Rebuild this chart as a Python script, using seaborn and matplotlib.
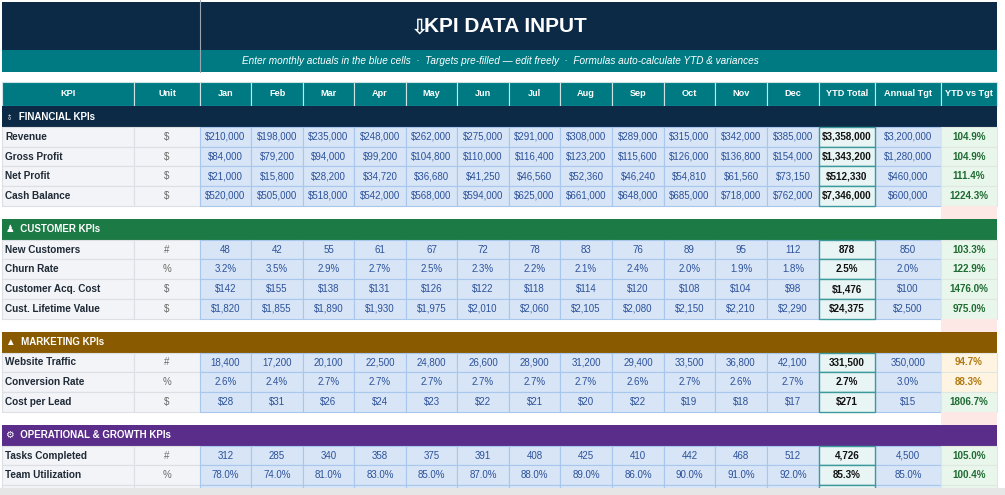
import matplotlib
matplotlib.use("Agg")
import matplotlib.pyplot as plt
from matplotlib.patches import Rectangle
import seaborn as sns

sns.set_style("white")
plt.rcParams['font.family'] = ['Liberation Sans', 'DejaVu Sans']

months = ["Jan", "Feb", "Mar", "Apr", "May", "Jun", "Jul", "Aug", "Sep", "Oct", "Nov", "Dec"]
headers = ["KPI", "Unit"] + months + ["YTD Total", "Annual Tgt", "YTD vs Tgt"]

fin_kpis = ["Revenue", "Gross Profit", "Net Profit", "Cash Balance"]
fin_units = ["$", "$", "$", "$"]
fin_vals = [
    ["$210,000", "$198,000", "$235,000", "$248,000", "$262,000", "$275,000", "$291,000", "$308,000", "$289,000", "$315,000", "$342,000", "$385,000"],
    ["$84,000", "$79,200", "$94,000", "$99,200", "$104,800", "$110,000", "$116,400", "$123,200", "$115,600", "$126,000", "$136,800", "$154,000"],
    ["$21,000", "$15,800", "$28,200", "$34,720", "$36,680", "$41,250", "$46,560", "$52,360", "$46,240", "$54,810", "$61,560", "$73,150"],
    ["$520,000", "$505,000", "$518,000", "$542,000", "$568,000", "$594,000", "$625,000", "$661,000", "$648,000", "$685,000", "$718,000", "$762,000"],
]
fin_ytd = ["$3,358,000", "$1,343,200", "$512,330", "$7,346,000"]
fin_tgt = ["$3,200,000", "$1,280,000", "$460,000", "$600,000"]
fin_pct = ["104.9%", "104.9%", "111.4%", "1224.3%"]

cust_kpis = ["New Customers", "Churn Rate", "Customer Acq. Cost", "Cust. Lifetime Value"]
cust_units = ["#", "%", "$", "$"]
cust_vals = [
    ["48", "42", "55", "61", "67", "72", "78", "83", "76", "89", "95", "112"],
    ["3.2%", "3.5%", "2.9%", "2.7%", "2.5%", "2.3%", "2.2%", "2.1%", "2.4%", "2.0%", "1.9%", "1.8%"],
    ["$142", "$155", "$138", "$131", "$126", "$122", "$118", "$114", "$120", "$108", "$104", "$98"],
    ["$1,820", "$1,855", "$1,890", "$1,930", "$1,975", "$2,010", "$2,060", "$2,105", "$2,080", "$2,150", "$2,210", "$2,290"],
]
cust_ytd = ["878", "2.5%", "$1,476", "$24,375"]
cust_tgt = ["850", "2.0%", "$100", "$2,500"]
cust_pct = ["103.3%", "122.9%", "1476.0%", "975.0%"]

mkt_kpis = ["Website Traffic", "Conversion Rate", "Cost per Lead"]
mkt_units = ["#", "%", "$"]
mkt_vals = [
    ["18,400", "17,200", "20,100", "22,500", "24,800", "26,600", "28,900", "31,200", "29,400", "33,500", "36,800", "42,100"],
    ["2.6%", "2.4%", "2.7%", "2.7%", "2.7%", "2.7%", "2.7%", "2.7%", "2.6%", "2.7%", "2.6%", "2.7%"],
    ["$28", "$31", "$26", "$24", "$23", "$22", "$21", "$20", "$22", "$19", "$18", "$17"],
]
mkt_ytd = ["331,500", "2.7%", "$271"]
mkt_tgt = ["350,000", "3.0%", "$15"]
mkt_pct = ["94.7%", "88.3%", "1806.7%"]

ops_kpis = ["Tasks Completed", "Team Utilization", ""]
ops_units = ["#", "%", ""]
ops_vals = [
    ["312", "285", "340", "358", "375", "391", "408", "425", "410", "442", "468", "512"],
    ["78.0%", "74.0%", "81.0%", "83.0%", "85.0%", "87.0%", "88.0%", "89.0%", "86.0%", "90.0%", "91.0%", "92.0%"],
    [""] * 12,
]
ops_ytd = ["4,726", "85.3%", ""]
ops_tgt = ["4,500", "85.0%", ""]
ops_pct = ["105.0%", "100.4%", ""]

NAVY = "#0c2a46"
TEAL = "#007a82"
sections = [
    ("♁  FINANCIAL KPIs", NAVY, fin_kpis, fin_units, fin_vals, fin_ytd, fin_tgt, fin_pct),
    ("♟  CUSTOMER KPIs", "#1c7a45", cust_kpis, cust_units, cust_vals, cust_ytd, cust_tgt, cust_pct),
    ("▲  MARKETING KPIs", "#8a5a00", mkt_kpis, mkt_units, mkt_vals, mkt_ytd, mkt_tgt, mkt_pct),
    ("⚙  OPERATIONAL & GROWTH KPIs", "#5a2d8a", ops_kpis, ops_units, ops_vals, ops_ytd, ops_tgt, ops_pct),
]

col_x = [2, 134, 200, 251, 303, 354, 406, 457, 509, 560, 612, 664, 715, 767, 819, 875, 941, 997]

fig = plt.figure(figsize=(10.05, 4.95), dpi=100)
ax = fig.add_axes([0, 0, 1, 1])
ax.set_xlim(0, 1005)
ax.set_ylim(495, 0)
ax.axis("off")


def box(x0, y0, x1, y1, fc, ec="none", lw=0.8, z=1):
    ax.add_patch(Rectangle((x0, y0), x1 - x0, y1 - y0, facecolor=fc, edgecolor=ec, linewidth=lw, zorder=z))


# title and subtitle
box(2, 2, 997, 50, NAVY)
box(2, 50, 997, 72, TEAL)
ax.plot([200, 200], [0, 72], color="#9aa5b1", lw=0.8, zorder=2)
ax.text(420, 27, "⇩", color="white", fontsize=15, fontweight="bold", ha="center", va="center", zorder=3,
        family=["DejaVu Sans"])
ax.text(505, 27, "KPI DATA INPUT", color="white", fontsize=15, fontweight="bold", ha="center", va="center", zorder=3)
ax.text(500, 61, "Enter monthly actuals in the blue cells  ·  Targets pre-filled — edit freely  ·  Formulas auto-calculate YTD & variances",
        color="white", fontsize=7.2, style="italic", ha="center", va="center", zorder=3)

# header
for i, h in enumerate(headers):
    box(col_x[i], 82, col_x[i + 1], 106, TEAL, ec="#cfe3e5", lw=0.8)
    ax.text((col_x[i] + col_x[i + 1]) / 2, 94, h, color="white", fontsize=6.6, fontweight="bold", ha="center", va="center", zorder=3)

row_h = 19.7
y = 106
for title, color, kpis, units, vals, ytd, tgt, pct in sections:
    box(2, y, 997, y + 21, color)
    ax.text(6, y + 10.5, title, color="white", fontsize=7, fontweight="bold", ha="left", va="center", zorder=3)
    y += 21
    for r in range(len(kpis)):
        y0, y1 = y, y + row_h
        box(col_x[0], y0, col_x[1], y1, "#f3f4f7", ec="#dcdfe4")
        box(col_x[1], y0, col_x[2], y1, "#f3f4f7", ec="#dcdfe4")
        ax.text(5, (y0 + y1) / 2, kpis[r], fontsize=7.2, fontweight="bold", color="#1f2a36", ha="left", va="center", zorder=3)
        ax.text(167, (y0 + y1) / 2, units[r], fontsize=7, color="#6b6b6b", ha="center", va="center", zorder=3)
        for m in range(12):
            xa, xb = col_x[m + 2], col_x[m + 3]
            box(xa, y0, xb, y1, "#d7e5f7", ec="#a9c6ec")
            ax.text((xa + xb) / 2, (y0 + y1) / 2, vals[r][m], fontsize=7, color="#2d5299", ha="center", va="center", zorder=3)
        box(col_x[14], y0, col_x[15], y1, "#e9f5f5", ec="#3c9a9c", lw=1.0, z=2)
        ax.text((col_x[14] + col_x[15]) / 2, (y0 + y1) / 2, ytd[r], fontsize=7.1, fontweight="bold", color="#111111", ha="center", va="center", zorder=3)
        box(col_x[15], y0, col_x[16], y1, "#d7e5f7", ec="#a9c6ec")
        ax.text((col_x[15] + col_x[16]) / 2, (y0 + y1) / 2, tgt[r], fontsize=7, color="#2d5299", ha="center", va="center", zorder=3)
        p = pct[r]
        low = p != "" and float(p.rstrip("%")) < 100
        box(col_x[16], y0, col_x[17], y1, "#fff4e2" if low else "#e9f6ec", ec="#dfe7e0")
        ax.text((col_x[16] + col_x[17]) / 2, (y0 + y1) / 2, p, fontsize=7.1, fontweight="bold",
                color="#b07a10" if low else "#1f6b32", ha="center", va="center", zorder=3)
        y = y1
    box(col_x[16], y, col_x[17], y + 13, "#fde8e6")
    y += 13

box(0, 488, 1005, 495, "#e6e6e6", z=4)
plt.savefig("out.png", dpi=100)
